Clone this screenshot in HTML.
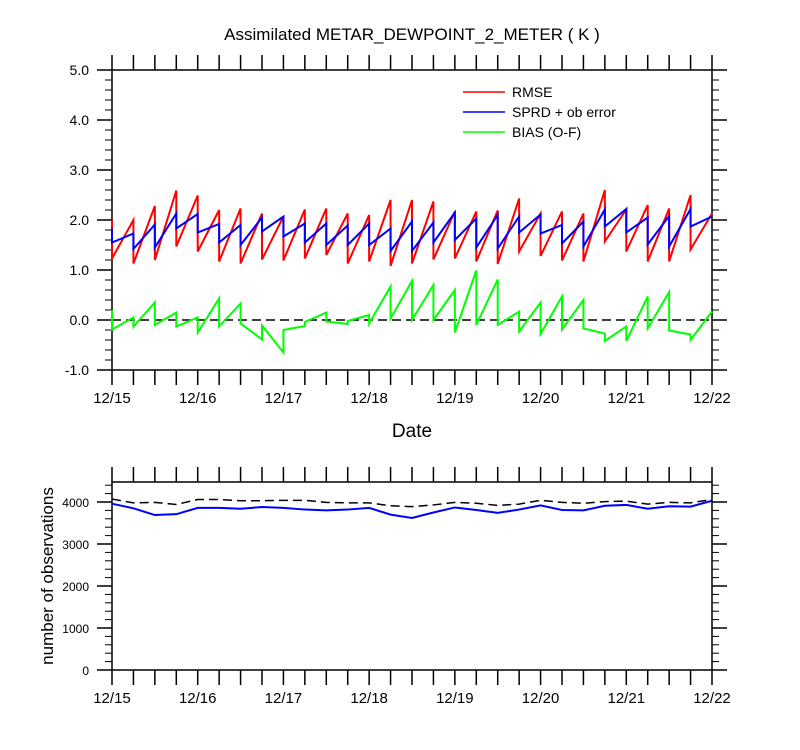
<!DOCTYPE html>
<html><head><meta charset="utf-8">
<style>
html,body{margin:0;padding:0;background:#fff;}
svg{display:block;font-family:"Liberation Sans",Arial,sans-serif;}
</style></head>
<body>
<svg id="chart" width="800" height="750" viewBox="0 0 800 750">
<text x="412" y="40" text-anchor="middle" font-size="17">Assimilated METAR_DEWPOINT_2_METER ( K )</text>
<text x="412" y="437" text-anchor="middle" font-size="19">Date</text>
<text transform="translate(53,576) rotate(-90)" text-anchor="middle" font-size="17">number of observations</text>
<g id="topPanel"></g>
<g id="botPanel"></g>
<g id="legend">
<line x1="463" y1="92" x2="505" y2="92" stroke="#ff0000" stroke-width="1.5"/>
<text x="512" y="97" font-size="14">RMSE</text>
<line x1="463" y1="112" x2="505" y2="112" stroke="#0000ff" stroke-width="1.5"/>
<text x="512" y="117" font-size="14">SPRD + ob error</text>
<line x1="463" y1="132" x2="505" y2="132" stroke="#00ff00" stroke-width="1.5"/>
<text x="512" y="137" font-size="14">BIAS (O-F)</text>
</g>
</svg>
<script>
const rmseF=[2.0,2.0,2.28,2.59,2.49,2.2,2.23,2.13,2.07,2.21,2.23,2.13,2.1,2.4,2.4,2.37,2.17,2.17,2.19,2.43,2.13,2.17,2.13,2.6,2.21,2.3,2.23,2.5,2.13];
const rmseA=[1.23,1.13,1.2,1.47,1.37,1.17,1.13,1.21,1.19,1.23,1.3,1.13,1.17,1.08,1.13,1.21,1.23,1.17,1.12,1.37,1.28,1.19,1.17,1.57,1.37,1.17,1.17,1.41,1.23];
const sprdF=[1.83,1.73,1.91,2.13,2.12,1.92,1.9,2.05,2.07,1.93,1.93,1.89,1.93,1.83,1.97,1.95,2.15,2.03,2.1,2.07,2.11,1.9,1.97,2.21,2.22,2.05,2.08,2.22,2.07];
const sprdA=[1.55,1.42,1.45,1.83,1.75,1.55,1.5,1.77,1.67,1.55,1.5,1.5,1.5,1.38,1.38,1.55,1.6,1.45,1.43,1.75,1.73,1.53,1.47,1.87,1.75,1.51,1.47,1.87,1.2];
const biasF=[0.2,0.05,0.35,0.15,0.05,0.43,0.33,-0.39,-0.65,-0.12,0.15,-0.08,0.1,0.67,0.78,0.7,0.6,0.99,0.81,0.17,0.35,0.47,0.4,-0.27,-0.13,0.47,0.56,-0.29,0.17];
const biasA=[-0.19,-0.13,-0.1,-0.13,-0.25,-0.13,-0.07,-0.11,-0.2,-0.04,-0.03,-0.02,-0.07,0.03,0.0,0.0,-0.25,-0.1,-0.1,-0.23,-0.28,-0.19,-0.17,-0.42,-0.42,-0.17,-0.21,-0.4,0.17];
const obsUsed=[3960,3850,3690,3710,3860,3860,3840,3880,3860,3820,3800,3820,3860,3700,3620,3750,3870,3810,3740,3820,3920,3810,3800,3910,3930,3840,3900,3890,4030];
const obsPossible=[4070,3980,3990,3940,4060,4060,4030,4030,4040,4040,3990,3980,3980,3910,3890,3930,3990,3970,3920,3950,4040,3990,3970,4010,4020,3950,3990,3980,4060];
const dateLabels=["12/15","12/16","12/17","12/18","12/19","12/20","12/21","12/22"];
const topTicks=[-1,0,1,2,3,4,5];
const botTicks=[0,1000,2000,3000,4000];

const NS="http://www.w3.org/2000/svg";
const X0=112,X1=712,nT=rmseF.length;
const xS=i=>X0+i*(X1-X0)/(nT-1);
const yTop=v=>320-v*50;
const yBot=v=>670-v*168/4000;
function mk(tag,attrs,parent){const e=document.createElementNS(NS,tag);for(const k in attrs)e.setAttribute(k,attrs[k]);parent.appendChild(e);return e;}
const topG=document.getElementById('topPanel'),botG=document.getElementById('botPanel');

function axes(g,yT,yB,yFn,ticks,minorStep,fmt,lo,hi,pre){
  let r=mk('rect',{x:X0,y:yT,width:X1-X0,height:yB-yT,fill:'none',stroke:'#000','stroke-width':1.5},g);
  
  
  for(let i=0;i<nT;i++){
    const x=xS(i);
    let t1=mk('line',{x1:x,y1:yT,x2:x,y2:yT-15,stroke:'#000','stroke-width':1.5},g);
    
    
    let t2=mk('line',{x1:x,y1:yB,x2:x,y2:yB+15,stroke:'#000','stroke-width':1.5},g);
    
    
  }
  dateLabels.forEach((d,i)=>{
    let t=mk('text',{x:X0+i*(X1-X0)/7,y:yB+33,'text-anchor':'middle','font-size':15},g);
    t.textContent=d;
    
    
  });
  for(let v=lo;v<=hi+1e-9;v+=minorStep){
    const y=yFn(v);
    if(y<yT-0.5)continue;
    let l=mk('line',{x1:X0-7,y1:y,x2:X0,y2:y,stroke:'#000','stroke-width':1},g);
    
    
    let r2=mk('line',{x1:X1,y1:y,x2:X1+7,y2:y,stroke:'#000','stroke-width':1},g);
    
    
  }
  ticks.forEach(v=>{
    const y=yFn(v);
    let l=mk('line',{x1:X0-15,y1:y,x2:X0,y2:y,stroke:'#000','stroke-width':1.5},g);
    
    
    let r2=mk('line',{x1:X1,y1:y,x2:X1+15,y2:y,stroke:'#000','stroke-width':1.5},g);
    
    
    let t=mk('text',{x:X0-23,y:y+5,'text-anchor':'end','font-size':pre==='top'?14:12},g);
    t.textContent=fmt(v);
    
    
  });
}
axes(topG,70,370,yTop,topTicks,0.2,v=>v.toFixed(1),-1,5,'top');
axes(botG,482,670,yBot,botTicks,200,v=>String(v),0,4400,'bot');

let zl=mk('line',{x1:X0,y1:yTop(0),x2:X1,y2:yTop(0),stroke:'#000','stroke-width':1.5,'stroke-dasharray':'9,5'},topG);



function saw(F,A,color,name){
  let pts=[];
  for(let i=0;i<nT;i++){pts.push(xS(i)+','+yTop(F[i]));if(i<nT-1)pts.push(xS(i)+','+yTop(A[i]));}
  let p=mk('polyline',{points:pts.join(' '),fill:'none',stroke:color,'stroke-width':2,'stroke-linejoin':'miter'},topG);
  
  
}
saw(rmseF,rmseA,'#ff0000','rmse-line');
saw(sprdF,sprdA,'#0000ff','sprd-line');
saw(biasF,biasA,'#00ff00','bias-line');

let pp=mk('polyline',{points:obsPossible.map((v,i)=>xS(i)+','+yBot(v)).join(' '),fill:'none',stroke:'#000','stroke-width':1.5,'stroke-dasharray':'9,5'},botG);


let pu=mk('polyline',{points:obsUsed.map((v,i)=>xS(i)+','+yBot(v)).join(' '),fill:'none',stroke:'#0000ff','stroke-width':2},botG);


</script>
</body></html>
